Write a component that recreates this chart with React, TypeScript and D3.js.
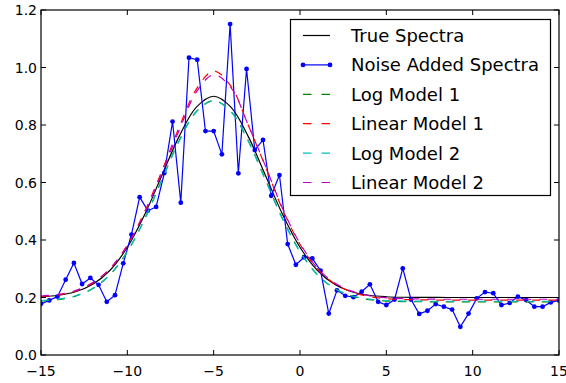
import React from 'react';
import * as d3 from 'd3';

const W = 566;
const H = 383;

const xTicks = [-15, -10, -5, 0, 5, 10, 15];
const yTicks = [0, 0.2, 0.4, 0.6, 0.8, 1.0, 1.2];
const xTickLabels = ['\u221215', '\u221210', '\u22125', '0', '5', '10', '15'];
const yTickLabels = ['0.0', '0.2', '0.4', '0.6', '0.8', '1.0', '1.2'];

// model sample grid: x = -15 .. 15
const modelX = [-15, -14, -13, -12, -11, -10, -9, -8, -7, -6, -5, -4, -3, -2, -1, 0, 1, 2, 3, 4, 5, 6, 7, 8, 9, 10, 11, 12, 13, 14, 15];

const trueSpectra = [0.2027, 0.2078, 0.22, 0.246, 0.2947, 0.3746, 0.4878, 0.6246, 0.7605, 0.8622, 0.9, 0.8622, 0.7605, 0.6246, 0.4878, 0.3746, 0.2947, 0.246, 0.22, 0.2078, 0.2027, 0.2008, 0.2002, 0.2001, 0.2, 0.2, 0.2, 0.2, 0.2, 0.2, 0.2];
const logModel1 = [0.1877, 0.1928, 0.205, 0.231, 0.2797, 0.3596, 0.4728, 0.6096, 0.7455, 0.8472, 0.885, 0.8472, 0.7455, 0.6096, 0.4728, 0.3596, 0.2797, 0.231, 0.205, 0.1928, 0.1877, 0.1858, 0.1852, 0.185, 0.185, 0.185, 0.185, 0.185, 0.185, 0.185, 0.185];
const linearModel1 = [0.203, 0.209, 0.222, 0.25, 0.3, 0.382, 0.498, 0.64, 0.792, 0.925, 0.988, 0.935, 0.8, 0.655, 0.505, 0.385, 0.3, 0.248, 0.219, 0.203, 0.196, 0.193, 0.192, 0.191, 0.191, 0.191, 0.191, 0.191, 0.191, 0.191, 0.191];
const logModel2 = [0.1895, 0.1945, 0.2062, 0.2318, 0.28, 0.3592, 0.4718, 0.6082, 0.744, 0.846, 0.884, 0.846, 0.744, 0.6082, 0.4718, 0.3592, 0.28, 0.2318, 0.2062, 0.1945, 0.1895, 0.1877, 0.1871, 0.187, 0.187, 0.187, 0.187, 0.187, 0.187, 0.187, 0.187];
const linearModel2 = [0.205, 0.211, 0.224, 0.252, 0.301, 0.381, 0.494, 0.633, 0.781, 0.915, 0.975, 0.93, 0.8, 0.657, 0.508, 0.388, 0.303, 0.251, 0.222, 0.206, 0.199, 0.196, 0.195, 0.194, 0.194, 0.194, 0.194, 0.194, 0.194, 0.194, 0.194];

// noisy spectrum, 64 samples evenly spaced over [-15, 15]
const noiseY = [
  0.178, 0.19, 0.203, 0.262, 0.32, 0.247, 0.268, 0.244, 0.185, 0.208,
  0.319, 0.419, 0.549, 0.502, 0.515, 0.633, 0.812, 0.53, 1.034, 1.027,
  0.779, 0.779, 0.698, 1.151, 0.632, 0.995, 0.713, 0.748, 0.554, 0.626,
  0.386, 0.314, 0.34, 0.336, 0.293, 0.144, 0.225, 0.206, 0.201, 0.22,
  0.246, 0.185, 0.174, 0.193, 0.301, 0.193, 0.143, 0.154, 0.177, 0.168,
  0.158, 0.098, 0.144, 0.197, 0.219, 0.215, 0.174, 0.181, 0.203, 0.191,
  0.168, 0.168, 0.183, 0.19,
];
const noiseX = noiseY.map((_, i) => -15 + (i * 30) / (noiseY.length - 1));

const legendLabels = ['True Spectra', 'Noise Added Spectra', 'Log Model 1', 'Linear Model 1', 'Log Model 2', 'Linear Model 2'];
const colors = ['#000000', '#0000ff', '#008000', '#ff0000', '#00bfbf', '#bf00bf'];

const FONT = 'DejaVu Sans, Bitstream Vera Sans, sans-serif';

export default function App() {
  const left = 41, right = 559, top = 10, bottom = 355;
  const x = d3.scaleLinear().domain([-15, 15]).range([left, right]);
  const y = d3.scaleLinear().domain([0, 1.2]).range([bottom, top]);

  const smooth = d3
    .line<[number, number]>()
    .x((d) => x(d[0]))
    .y((d) => y(d[1]))
    .curve(d3.curveCatmullRom.alpha(0.5));
  const straight = d3
    .line<[number, number]>()
    .x((d) => x(d[0]))
    .y((d) => y(d[1]));

  const pairs = (xs: number[], ys: number[]) => xs.map((v, i) => [v, ys[i]] as [number, number]);

  const models = [
    { data: trueSpectra, color: colors[0], dash: undefined as string | undefined },
    { data: logModel1, color: colors[2], dash: '8,8' },
    { data: linearModel1, color: colors[3], dash: '8,8' },
    { data: logModel2, color: colors[4], dash: '8,8' },
    { data: linearModel2, color: colors[5], dash: '8,8' },
  ];

  const noisePts = pairs(noiseX, noiseY);

  const legX = 290.5, legY = 19.5, legW = 260, legH = 176;
  const rowY = (k: number) => 35.5 + k * 29.4;

  return (
    <svg width={W} height={H} style={{ position: 'absolute', left: 0, top: 0, display: 'block', background: '#fff' }}>
      <rect x={0} y={0} width={W} height={H} fill="#fff" />
      <defs>
        <clipPath id="plot">
          <rect x={left} y={top} width={right - left} height={bottom - top} />
        </clipPath>
      </defs>
      <g clipPath="url(#plot)">
        <path d={smooth(pairs(modelX, trueSpectra)) || ''} fill="none" stroke={colors[0]} strokeWidth={1.2} />
        <path d={straight(noisePts) || ''} fill="none" stroke={colors[1]} strokeWidth={1.2} />
        {noisePts.map((p, i) => (
          <circle key={i} cx={x(p[0])} cy={y(p[1])} r={2.4} fill={colors[1]} />
        ))}
        {models.slice(1).map((m, i) => (
          <path
            key={i}
            d={smooth(pairs(modelX, m.data)) || ''}
            fill="none"
            stroke={m.color}
            strokeWidth={1.2}
            strokeDasharray={m.dash}
          />
        ))}
      </g>
      {/* frame */}
      <rect x={left} y={top} width={right - left} height={bottom - top} fill="none" stroke="#000" strokeWidth={1.2} />
      {/* ticks */}
      {xTicks.map((t, i) => (
        <g key={'x' + i}>
          <line x1={x(t)} x2={x(t)} y1={bottom} y2={bottom - 5} stroke="#000" />
          <line x1={x(t)} x2={x(t)} y1={top} y2={top + 5} stroke="#000" />
          <text x={x(t)} y={376} textAnchor="middle" fontFamily={FONT} fontSize={14} fill="#000">
            {xTickLabels[i]}
          </text>
        </g>
      ))}
      {yTicks.map((t, i) => (
        <g key={'y' + i}>
          <line x1={left} x2={left + 5} y1={y(t)} y2={y(t)} stroke="#000" />
          <line x1={right} x2={right - 5} y1={y(t)} y2={y(t)} stroke="#000" />
          <text x={37} y={y(t) + 5} textAnchor="end" fontFamily={FONT} fontSize={14} fill="#000">
            {yTickLabels[i]}
          </text>
        </g>
      ))}
      {/* legend */}
      <rect x={legX} y={legY} width={legW} height={legH} fill="#fff" stroke="#000" strokeWidth={1.2} />
      {legendLabels.map((lab, k) => {
        const ry = rowY(k);
        const isNoise = k === 1;
        const dashed = k >= 2;
        return (
          <g key={'l' + k}>
            <line
              x1={303}
              x2={330}
              y1={ry}
              y2={ry}
              stroke={colors[k]}
              strokeWidth={1.2}
              strokeDasharray={dashed ? '8.5,10' : undefined}
            />
            {isNoise && (
              <>
                <circle cx={303} cy={ry} r={2.4} fill={colors[1]} />
                <circle cx={330} cy={ry} r={2.4} fill={colors[1]} />
              </>
            )}
            <text x={351} y={ry + 6.5} fontFamily={FONT} fontSize={18} fill="#000">
              {lab}
            </text>
          </g>
        );
      })}
    </svg>
  );
}
